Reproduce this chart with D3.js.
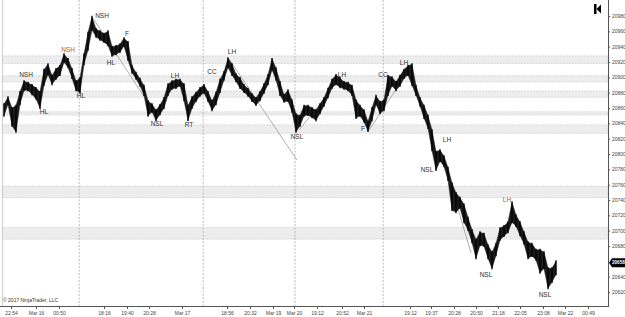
<!DOCTYPE html>
<html>
<head>
<meta charset="utf-8">
<script src="https://cdn.jsdelivr.net/npm/d3@7"></script>
<style>
  body { margin: 0; background: #fff; }
  svg { display: block; font-family: "Liberation Sans", Arial, sans-serif; }
</style>
</head>
<body>
<div id="chart"></div>
<script>
// bar highs / lows, one entry per bar (index = position on the time axis)
var highs = [20865, 20874, 20860, 20863, 20881, 20895, 20893, 20890, 20886, 20881,
  20910, 20917, 20902, 20911, 20915, 20930, 20924, 20911, 20895, 20899,
  20930, 20958, 20979, 20963, 20960, 20957, 20960, 20940, 20941, 20943,
  20951, 20946, 20915, 20906, 20898, 20889, 20869, 20865, 20857, 20864,
  20873, 20891, 20895, 20897, 20897, 20891, 20863, 20874, 20880, 20886,
  20890, 20881, 20869, 20880, 20897, 20907, 20925, 20917, 20904, 20899,
  20890, 20885, 20878, 20873, 20881, 20891, 20903, 20924, 20912, 20894,
  20877, 20883, 20870, 20852, 20850, 20863, 20863, 20860, 20857, 20865,
  20873, 20885, 20897, 20903, 20899, 20894, 20893, 20889, 20870, 20863,
  20857, 20842, 20860, 20876, 20868, 20870, 20902, 20900, 20894, 20902,
  20910, 20915, 20917, 20889, 20873, 20863, 20850, 20831, 20803, 20805,
  20797, 20782, 20762, 20749, 20743, 20734, 20717, 20701, 20688, 20698,
  20696, 20681, 20672, 20683, 20703, 20706, 20711, 20737, 20720, 20711,
  20698, 20685, 20683, 20675, 20675, 20672, 20651, 20651, 20660];
var lows = [20850, 20865, 20837, 20829, 20865, 20883, 20883, 20878, 20872, 20860,
  20890, 20904, 20891, 20898, 20903, 20920, 20913, 20899, 20883, 20880,
  20917, 20936, 20962, 20953, 20949, 20946, 20942, 20928, 20930, 20933,
  20941, 20923, 20906, 20898, 20889, 20877, 20850, 20855, 20844, 20852,
  20860, 20877, 20885, 20886, 20889, 20870, 20844, 20860, 20869, 20876,
  20880, 20869, 20857, 20865, 20881, 20897, 20913, 20903, 20895, 20886,
  20881, 20876, 20869, 20864, 20870, 20880, 20891, 20910, 20897, 20877,
  20868, 20869, 20855, 20829, 20837, 20850, 20851, 20848, 20844, 20853,
  20863, 20874, 20886, 20891, 20887, 20885, 20883, 20877, 20847, 20850,
  20842, 20830, 20844, 20865, 20853, 20857, 20877, 20889, 20883, 20889,
  20899, 20903, 20890, 20877, 20863, 20847, 20834, 20805, 20779, 20791,
  20784, 20766, 20727, 20724, 20730, 20711, 20701, 20685, 20664, 20681,
  20680, 20664, 20651, 20668, 20688, 20693, 20698, 20711, 20706, 20694,
  20683, 20664, 20667, 20662, 20645, 20651, 20625, 20633, 20643];
var lastPrice = 20658;

// 20660 sits under the last-price box, so its label is not shown
var priceTicks = [20620, 20640, 20680, 20700, 20720, 20740, 20760, 20780, 20800,
  20820, 20840, 20860, 20880, 20900, 20920, 20940, 20960, 20980];

// time axis labels and the bar index where they sit
var timeLabels = ["22:54", "Mar 16", "00:50", "18:16", "19:40", "20:28", "Mar 17", "18:56",
  "20:32", "Mar 19", "Mar 20", "19:12", "20:52", "Mar 21", "19:12", "19:37", "20:28",
  "20:50", "21:18", "22:05", "23:08", "Mar 22", "00:49"];
var timeIdx = [1.75, 8, 13.75, 25, 30.75, 36.25, 44.5, 55.75, 61.5, 67.25, 72.5, 78.25,
  84.5, 90, 101.5, 106.75, 112.5, 118, 123.5, 129, 134.75, 140.25, 146];

var sessionBreaks = [18.8, 49.8, 72.75, 94.8];

// supply / demand zones [low, high]
var zoneLow = [20918, 20894, 20874, 20851, 20827, 20743, 20689];
var zoneHigh = [20928, 20902, 20882, 20855, 20838, 20758, 20704];

// swing annotations
var noteText = ["NSH", "HL", "NSH", "HL", "NSH", "F", "HL", "NSL", "LH", "RT", "CC", "LH",
  "NSL", "LH", "F", "CC", "LH", "LH", "NSL", "LH", "NSL", "NSL"];
var noteIdx = [5.5, 10, 16, 19.25, 24.5, 30.75, 26.75, 38.25, 42.75, 46.25, 52, 57,
  73.25, 84.5, 89.75, 94.75, 100, 110.75, 105.75, 125.75, 120.5, 135.25];
var notePrice = [20904, 20855, 20936, 20876, 20981, 20957, 20919, 20840, 20902, 20838, 20907, 20934,
  20823, 20904, 20833, 20904, 20919, 20818, 20780, 20740, 20642, 20617];
var noteOrange = [2, 19];

// trend lines [idx0, price0, idx1, price1]
var trendLines = [
  [22.25, 20977, 36, 20867],
  [56.25, 20924, 73.25, 20792],
  [73.75, 20831, 80.75, 20877],
  [91.25, 20831, 101.5, 20912],
  [111, 20773, 116.75, 20671]
];

var width = 625, height = 317;
var plotRight = 608, plotBottom = 306;

var svg = d3.select("#chart").append("svg")
    .attr("width", width)
    .attr("height", height);

var x = d3.scaleLinear().domain([0, 151]).range([4, plotRight]);
var y = d3.scaleLinear().domain([20980, 20620]).range([16, 292]);

// zones
zoneLow.forEach(function(lo, i) {
  svg.append("rect")
      .attr("x", 2)
      .attr("y", y(zoneHigh[i]))
      .attr("width", plotRight - 2)
      .attr("height", y(lo) - y(zoneHigh[i]))
      .attr("fill", "#ededed")
      .attr("stroke", "#c8c8c8")
      .attr("stroke-width", 0.6)
      .attr("stroke-dasharray", "2,1");
});

// left border + session breaks
svg.append("line")
    .attr("x1", 2.5).attr("x2", 2.5)
    .attr("y1", 0).attr("y2", plotBottom)
    .attr("stroke", "#cfcfcf");

svg.selectAll(".session")
    .data(sessionBreaks)
    .enter().append("line")
    .attr("class", "session")
    .attr("x1", function(d) { return x(d); })
    .attr("x2", function(d) { return x(d); })
    .attr("y1", 0).attr("y2", plotBottom)
    .attr("stroke", "#aaa")
    .attr("stroke-width", 0.8)
    .attr("stroke-dasharray", "2,1.5");

// trend lines
svg.selectAll(".trend")
    .data(trendLines)
    .enter().append("line")
    .attr("class", "trend")
    .attr("x1", function(d) { return x(d[0]); })
    .attr("y1", function(d) { return y(d[1]); })
    .attr("x2", function(d) { return x(d[2]); })
    .attr("y2", function(d) { return y(d[3]); })
    .attr("stroke", "#9a9a9a")
    .attr("stroke-width", 0.8);

// price bars: high-low ribbon plus spikes
var bars = highs.map(function(h, i) { return { i: i, h: h, l: lows[i] }; });

svg.append("path")
    .datum(bars)
    .attr("fill", "#1a1a1a")
    .attr("stroke", "#1a1a1a")
    .attr("stroke-width", 0.5)
    .attr("d", d3.area()
      .x(function(d) { return x(d.i); })
      .y0(function(d) { return y(d.l); })
      .y1(function(d) { return y(d.h); }));

svg.selectAll(".bar")
    .data(bars)
    .enter().append("line")
    .attr("class", "bar")
    .attr("x1", function(d) { return x(d.i); })
    .attr("x2", function(d) { return x(d.i); })
    .attr("y1", function(d) { return y(d.h) - 1; })
    .attr("y2", function(d) { return y(d.l) + 1; })
    .attr("stroke", "#000")
    .attr("stroke-width", 1.3);

// annotations
svg.selectAll(".note")
    .data(noteText)
    .enter().append("text")
    .attr("class", "note")
    .attr("x", function(d, i) { return x(noteIdx[i]); })
    .attr("y", function(d, i) { return y(notePrice[i]); })
    .attr("text-anchor", "middle")
    .attr("dy", "0.35em")
    .attr("font-size", 6.5)
    .attr("fill", function(d, i) { return noteOrange.indexOf(i) >= 0 ? "#b35a10" : "#2b2f33"; })
    .text(function(d) { return d; });

// axes
var yAxis = svg.append("g")
    .attr("transform", "translate(" + plotRight + ",0)")
    .call(d3.axisRight(y).tickValues(priceTicks).tickSize(2).tickPadding(2).tickFormat(d3.format("d")));
yAxis.select(".domain").attr("stroke", "#555").attr("d", "M0.5,0V" + plotBottom);
yAxis.selectAll("text").attr("font-size", 5).attr("fill", "#444");
yAxis.selectAll("line").attr("stroke", "#555");

var xAxis = svg.append("g")
    .attr("transform", "translate(0," + plotBottom + ")")
    .call(d3.axisBottom(x).tickValues(timeIdx).tickSize(3).tickPadding(2)
      .tickFormat(function(d, i) { return timeLabels[i]; }));
xAxis.select(".domain").attr("stroke", "#555").attr("d", "M0,0.5H" + (plotRight + 1));
xAxis.selectAll("text").attr("font-size", 5).attr("fill", "#444");
xAxis.selectAll("line").attr("stroke", "#555");

// current price marker
var py = y(lastPrice);
svg.append("path")
    .attr("d", "M" + (plotRight + 1) + "," + py + "L" + (plotRight + 4) + "," + (py - 4.5) +
      "H" + width + "V" + (py + 4.5) + "H" + (plotRight + 4) + "Z")
    .attr("fill", "#000");
svg.append("text")
    .attr("x", plotRight + 4)
    .attr("y", py)
    .attr("dy", "0.35em")
    .attr("font-size", 4.6)
    .attr("font-weight", "bold")
    .attr("fill", "#fff")
    .text(lastPrice);

// scroll-to-end button
svg.append("rect").attr("x", 594).attr("y", 4).attr("width", 2.5).attr("height", 10).attr("fill", "#000");
svg.append("path").attr("d", "M596.5,9L601,4.5V13.5Z").attr("fill", "#000");

svg.append("text")
    .attr("x", 3)
    .attr("y", 302)
    .attr("font-size", 5)
    .attr("fill", "#333")
    .text("\u00a9 2017 NinjaTrader, LLC");
</script>
</body>
</html>
